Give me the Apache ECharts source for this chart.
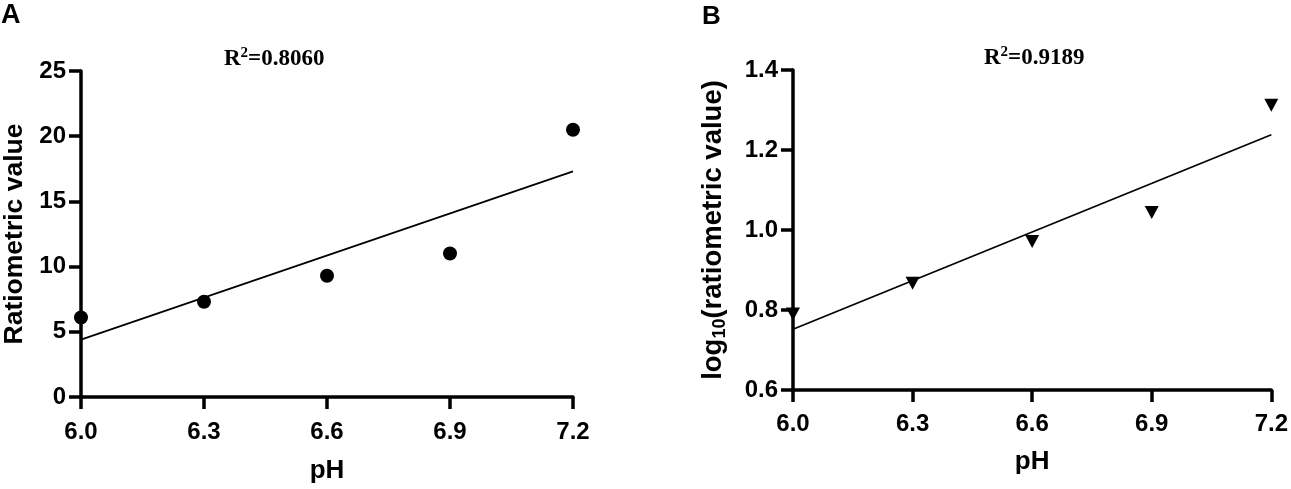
<!DOCTYPE html>
<html>
<head>
<meta charset="utf-8">
<script src="https://cdn.jsdelivr.net/npm/echarts@6/dist/echarts.min.js"></script>
<style>
html,body{margin:0;padding:0;background:#fff;}
#c{width:1291px;height:489px;}
</style>
</head>
<body>
<div id="c"></div>
<script>
// Data
var pH = [6.0, 6.3, 6.6, 6.9, 7.2];
var ratioA = [6.1, 7.3, 9.3, 11.0, 20.5];
var fitA = [[6.0, 4.4], [7.2, 17.3]];
var logB = [0.79, 0.867, 0.971, 1.044, 1.312];
var fitB = [[6.0, 0.752], [7.2, 1.238]];
var xTicks = [6.0, 6.3, 6.6, 6.9, 7.2];
var r2A = '0.8060';
var r2B = '0.9189';

var SANS = 'Liberation Sans, Arial, sans-serif';
var SERIF = 'Liberation Serif, Times New Roman, serif';

function zip(xs, ys) { return xs.map(function (x, i) { return [x, ys[i]]; }); }

function xAxisCfg(idx, m, lm) {
  return {
    type: 'value', gridIndex: idx, min: 6.0, max: 7.2, interval: 0.3,
    name: 'pH', nameLocation: 'middle', nameGap: m,
    nameTextStyle: {fontFamily: SANS, fontWeight: 'bold', fontSize: 26, color: '#000'},
    axisLine: {show: true, onZero: false, lineStyle: {color: '#000', width: 3.5}},
    axisTick: {show: true, inside: false, length: 12, lineStyle: {color: '#000', width: 3.5}},
    axisLabel: {fontFamily: SANS, fontWeight: 'bold', fontSize: 24, color: '#000', margin: lm,
      formatter: function (v) { return v.toFixed(1); }},
    splitLine: {show: false}
  };
}
function yAxisCfg(idx, min, max, iv, name, gap, fs, fmt) {
  return {
    type: 'value', gridIndex: idx, min: min, max: max, interval: iv,
    name: name, nameLocation: 'middle', nameGap: gap, nameRotate: 90,
    nameTextStyle: {fontFamily: SANS, fontWeight: 'bold', fontSize: fs, color: '#000',
      rich: {s: {fontFamily: SANS, fontWeight: 'bold', fontSize: 18, color: '#000', verticalAlign: 'bottom', lineHeight: 32}}},
    axisLine: {show: true, onZero: false, lineStyle: {color: '#000', width: 3.5}},
    axisTick: {show: true, inside: false, length: 12, lineStyle: {color: '#000', width: 3.5}},
    axisLabel: {fontFamily: SANS, fontWeight: 'bold', fontSize: 24, color: '#000', margin: 15, formatter: fmt},
    splitLine: {show: false}
  };
}
function r2Title(val, left, top) {
  return {text: '{r|R}{s|2}{r|=' + val + '}', left: left, top: top, padding: 0,
    textStyle: {rich: {
      r: {fontFamily: SERIF, fontWeight: 'bold', fontSize: 23, color: '#000', lineHeight: 26},
      s: {fontFamily: SERIF, fontWeight: 'bold', fontSize: 15, color: '#000', verticalAlign: 'top', lineHeight: 12}
    }}};
}

var chart = echarts.init(document.getElementById('c'), null, {renderer: 'canvas'});
chart.setOption({
  backgroundColor: '#fff',
  animation: false,
  title: [
    {text: 'A', left: 1, top: 2, padding: 0, textStyle: {fontFamily: SANS, fontWeight: 'bold', fontSize: 27, color: '#000'}},
    {text: 'B', left: 702, top: 4, padding: 0, textStyle: {fontFamily: SANS, fontWeight: 'bold', fontSize: 26, color: '#000'}},
    r2Title(r2A, 224, 46),
    r2Title(r2B, 984, 45)
  ],
  grid: [
    {left: 80, top: 71, width: 493, height: 327},
    {left: 793, top: 70, width: 480, height: 320}
  ],
  xAxis: [xAxisCfg(0, 61, 23), xAxisCfg(1, 59, 22)],
  yAxis: [
    yAxisCfg(0, 0, 25, 5, 'Ratiometric value', 53, 26.5, function (v) { return String(v); }),
    yAxisCfg(1, 0.6, 1.4, 0.2, 'log{s|10}(ratiometric value)', 64, 27.5, function (v) { return v.toFixed(1); })
  ],
  series: [
    {type: 'line', xAxisIndex: 0, yAxisIndex: 0, data: fitA, showSymbol: false, symbol: 'none',
      lineStyle: {color: '#000', width: 1.7}, z: 2},
    {type: 'scatter', xAxisIndex: 0, yAxisIndex: 0, data: zip(pH, ratioA), symbol: 'circle', symbolSize: 14,
      itemStyle: {color: '#000', opacity: 1}, z: 3},
    {type: 'line', xAxisIndex: 1, yAxisIndex: 1, data: fitB, showSymbol: false, symbol: 'none',
      lineStyle: {color: '#000', width: 1.7}, z: 2},
    {type: 'scatter', xAxisIndex: 1, yAxisIndex: 1, data: zip(pH, logB), symbol: 'triangle', symbolRotate: 180,
      symbolSize: [14, 13], itemStyle: {color: '#000', opacity: 1}, z: 3}
  ]
});
</script>
</body>
</html>
